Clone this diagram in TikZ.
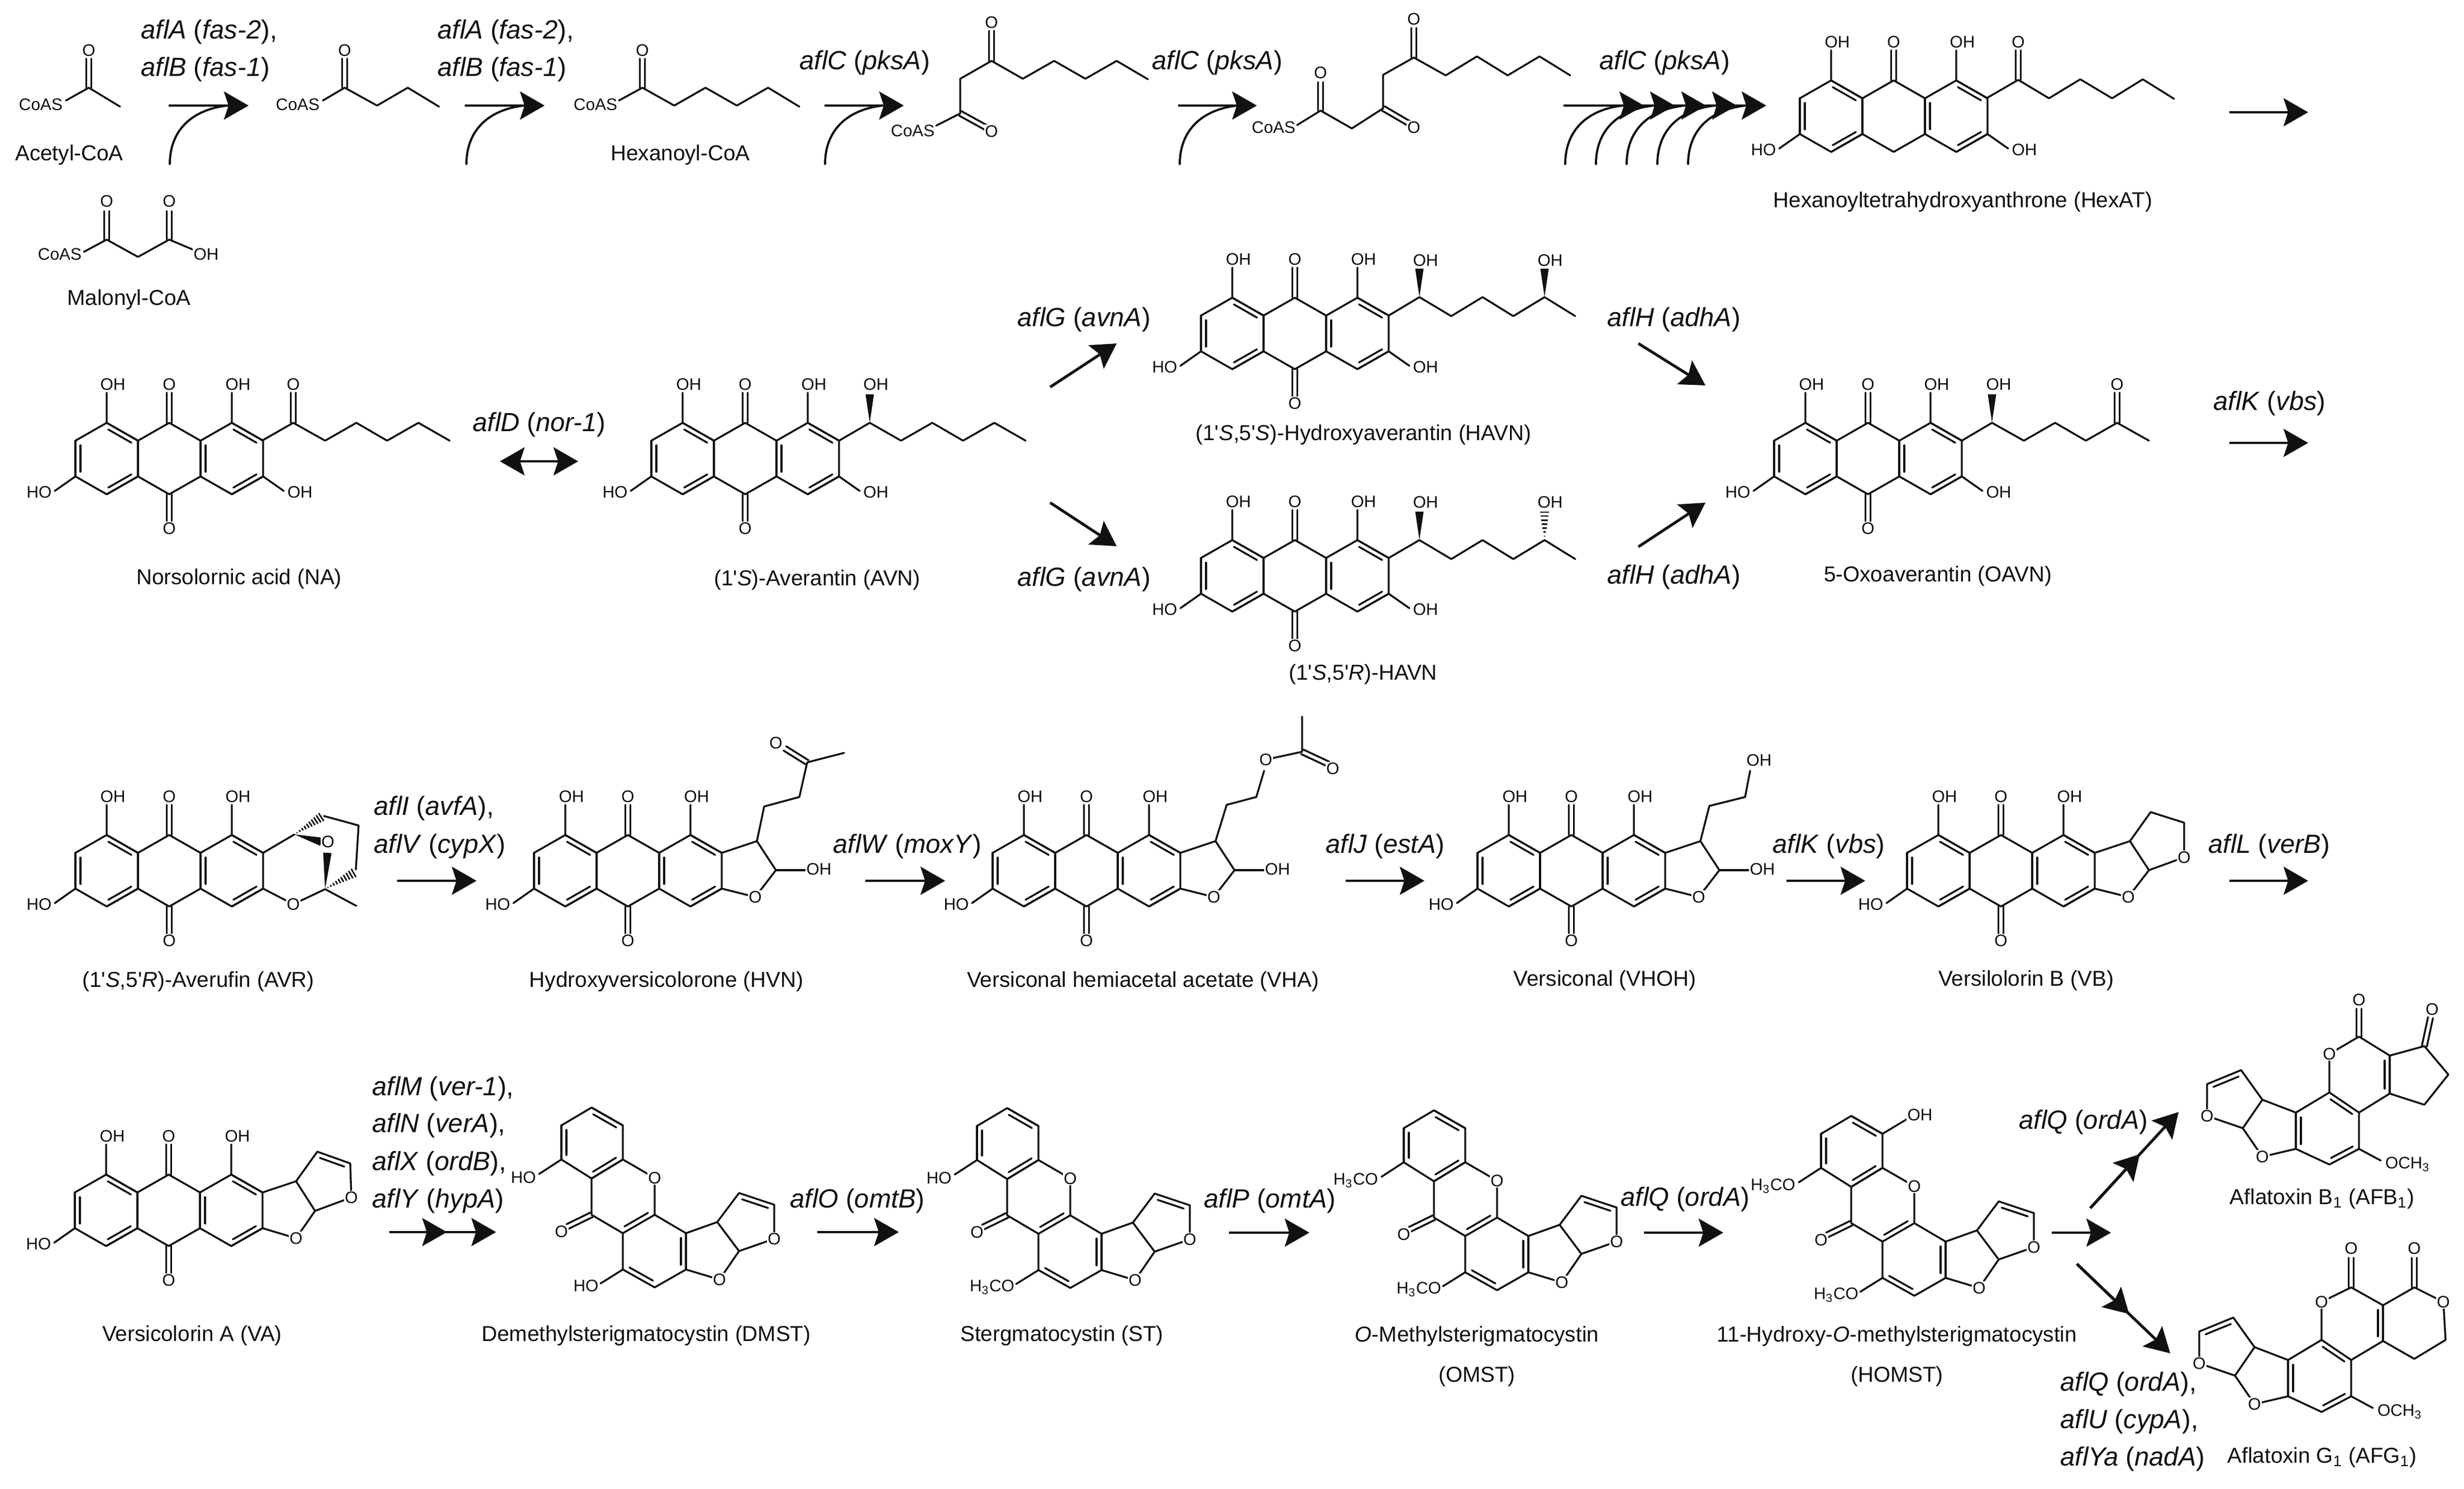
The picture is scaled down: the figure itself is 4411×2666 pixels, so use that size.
\documentclass[tikz,border=0pt]{standalone}
\usepackage{fontspec}
\setmainfont{Liberation Sans}
\usetikzlibrary{arrows.meta,calc}
\definecolor{ink}{HTML}{111111}
\tikzset{
 bond/.style={line width=0.95pt,line cap=round,line join=round,draw=ink},
 atomlab/.style={font=\fontsize{8.5}{10}\selectfont,fill=white,inner sep=0.4pt,text=ink},
 caplab/.style={font=\fontsize{11}{13}\selectfont,inner sep=0pt,text=ink,text height=8.2pt,text depth=2.4pt},
 genelab/.style={font=\fontsize{13.4}{15}\selectfont,inner sep=0pt,anchor=west,text=ink,text height=10pt,text depth=3pt},
 rxnline/.style={line width=1.4pt,draw=ink,-{Stealth[length=12.5pt,width=14.2pt,inset=2.3pt]}},
 rxnboth/.style={line width=1.4pt,draw=ink,{Stealth[length=12.5pt,width=14.2pt,inset=2.3pt]}-{Stealth[length=12.5pt,width=14.2pt,inset=2.3pt]}},
 feedline/.style={line width=1.1pt,draw=ink,line cap=round},
}
\newcounter{atm}
\newcommand\atm[3][]{\stepcounter{atm}\node[atomlab,#1] (atom\arabic{atm}) at (#2) {#3};}
\newcommand\gene[2]{\textit{#1} (\textit{#2})}
\newcommand\qs{\textquotesingle}
\newcommand\dbL[2]{\draw[bond] (#1)--(#2); \draw[bond] ($(#1)!.13!(#2)!0.09cm!90:(#2)$)--($(#2)!.13!(#1)!0.09cm!-90:(#1)$);}
\newcommand\dbR[2]{\draw[bond] (#1)--(#2); \draw[bond] ($(#1)!.13!(#2)!0.09cm!-90:(#2)$)--($(#2)!.13!(#1)!0.09cm!90:(#1)$);}
\newcommand\dbC[2]{\draw[bond] ($(#1)!0.045cm!90:(#2)$)--($(#2)!0.045cm!-90:(#1)$); \draw[bond] ($(#1)!0.045cm!-90:(#2)$)--($(#2)!0.045cm!90:(#1)$);}
\newcommand\bwedge[2]{\fill[ink] (#1)--($(#2)!0.075cm!90:(#1)$)--($(#2)!0.075cm!-90:(#1)$)--cycle;}
\newcommand\hwedge[3][0.1,0.2,...,1]{\foreach \t in {#1}{\pgfmathsetlengthmacro\hw{2.4*\t}\draw[line width=0.75pt,draw=ink] ($(#2)!\t!(#3)!\hw!90:(#2)$)--($(#2)!\t!(#3)!\hw!-90:(#2)$);}}
% anthraquinone core
\newcommand\coreskel[2]{\begin{scope}[shift={(#1,#2)}]
 \draw[bond] (-168,-32)--(-112,-64)--(-56,-32)--(0,-64)--(56,-32)--(112,-64)--(168,-32)--(168,32)--(112,64)--(56,32)--(0,64)--(-56,32)--(-112,64)--(-168,32)--cycle;
 \draw[bond] (-56,-32)--(-56,32) (56,-32)--(56,32);
 \dbR{-112,-64}{-56,-32}\dbR{112,-64}{168,-32}\dbL{-168,-32}{-168,32}\dbL{-112,64}{-56,32}\dbL{112,64}{168,32}\dbL{56,-32}{56,32}
 \draw[bond] (-112,-64)--(-112,-118) (112,-64)--(112,-118) (-168,32)--(-205,58);
 \dbC{0,-64}{0,-118}
 \atm{-101,-133}{OH}\atm{0,-133}{O}\atm{123,-133}{OH}\atm{-233,60}{HO}
\end{scope}}
\newcommand\corebottom[2]{\begin{scope}[shift={(#1,#2)}]\dbC{0,64}{0,116}\atm{0,125}{O}\end{scope}}
\newcommand\coreOH[2]{\begin{scope}[shift={(#1,#2)}]\draw[bond] (168,32)--(205,58);\atm{234,60}{OH}\end{scope}}
\newcommand\furanOpen[2]{\begin{scope}[shift={(#1,#2)}]\draw[bond] (168,-32)--(231,-53)--(265,-1)--(228,47)--(168,32);\atm{228,47}{O}\end{scope}}
\newcommand\hemiOH[2]{\begin{scope}[shift={(#1,#2)}]\draw[bond] (265,-1)--(318,-1);\atm{342,-3}{OH}\end{scope}}
% xanthone part, in the coordinates of DMST
\newcommand\xan[2]{\begin{scope}[shift={(#1,#2)}]
 \draw[bond] (1059,1983)--(1115,2015)--(1115,2076)--(1059,2110)--(1005,2076)--(1005,2015)--cycle;
 \dbR{1059,1983}{1115,2015}\dbR{1115,2076}{1059,2110}\dbR{1005,2076}{1005,2015}
 \draw[bond] (1115,2076)--(1172,2109)--(1172,2175) (1059,2110)--(1059,2175)--(1115,2208);
 \dbL{1115,2208}{1172,2175}
 \dbC{1059,2175}{1016,2196}
 \atm{1005,2205}{O}\atm{1172,2109}{O}
 \draw[bond] (1115,2208)--(1115,2273)(1172,2175)--(1228,2208);
 \dbL{1115,2273}{1172,2305}\dbL{1228,2273}{1228,2208}
 \draw[bond] (1172,2305)--(1228,2273);
 \draw[bond] (1228,2208)--(1284,2188)--(1323,2136);
 \dbR{1323,2136}{1386,2157}
 \draw[bond] (1386,2157)--(1386,2218)--(1323,2240)--(1284,2188) (1323,2240)--(1288,2291)--(1228,2273);
 \atm{1386,2218}{O}\atm{1288,2291}{O}
 \draw[bond] (1005,2076)--(965,2102) (1115,2273)--(1075,2298);
\end{scope}}
\newcommand\xanHO[2]{\begin{scope}[shift={(#1,#2)}]\atm{937,2108}{HO}\end{scope}}
\newcommand\xanMeA[2]{\begin{scope}[shift={(#1,#2)}]\atm[anchor=east]{961,2109}{H\textsubscript{3}CO}\end{scope}}
\newcommand\xanMeB[2]{\begin{scope}[shift={(#1,#2)}]\atm[anchor=east]{1074,2304}{H\textsubscript{3}CO}\end{scope}}
% common part of the aflatoxins, in the coordinates of AFB1
\newcommand\afla[2]{\begin{scope}[shift={(#1,#2)}]
 \dbR{4170,1956}{4223,1992}\dbL{4110,1992}{4110,2057}\dbR{4223,2057}{4170,2085}
 \draw[bond] (4223,1992)--(4223,2057) (4170,2085)--(4110,2057) (4110,1992)--(4170,1956);
 \draw[bond] (4110,1992)--(4050,1969)--(4012,1916);
 \dbL{4012,1916}{3951,1941}
 \draw[bond] (3951,1941)--(3951,1998)--(4015,2020)--(4050,1969) (4015,2020)--(4050,2071)--(4110,2057);
 \atm{3951,1998}{O}\atm{4050,2071}{O}
 \draw[bond] (4223,2057)--(4262,2078);
 \atm[anchor=west]{4268,2085}{OCH\textsubscript{3}}
\end{scope}}
\begin{document}
\begin{tikzpicture}[x=0.01cm,y=-0.01cm]
\fill[white] (0,0) rectangle (4411,2666);
\useasboundingbox (0,0) rectangle (4411,2666);
%%%% ROW 1
% acetyl-CoA
\dbC{159,157}{159,105}\draw[bond] (159,157)--(215,191) (159,157)--(118,180);
\atm{159,90}{O}\atm{73,187}{CoAS}
\node[caplab] (acetyl) at (124,277) {Acetyl-CoA};
% butyryl
\dbC{617,157}{617,105}\draw[bond] (578,180)--(617,157)--(675,189)--(730,157)--(786,191);
\atm{617,90}{O}\atm{533,187}{CoAS}
% hexanoyl
\dbC{1150,157}{1150,105}\draw[bond] (1108,180)--(1150,157)--(1207,189)--(1263,157)--(1319,189)--(1375,157)--(1431,191);
\atm{1150,90}{O}\atm{1066,187}{CoAS}
\node[caplab] (hexanoyl) at (1218,277) {Hexanoyl-CoA};
% malonyl
\dbC{191,429}{191,378}\dbC{303,429}{303,378}
\draw[bond] (150,451)--(191,429)--(247,460)--(303,429)--(348,448);
\atm{191,360}{O}\atm{303,360}{O}\atm{107,455}{CoAS}\atm{369,455}{OH}
\node[caplab] (malonyl) at (231,536) {Malonyl-CoA};
% triketide
\dbC{1775,109}{1775,55}
\draw[bond] (1775,109)--(1719,141)--(1719,203)--(1676,225);
\draw[bond] (1775,109)--(1831,141)--(1887,109)--(1943,141)--(1999,109)--(2055,142);
\dbC{1719,203}{1768,230}
\atm{1775,40}{O}\atm{1775,235}{O}\atm{1634,234}{CoAS}
% tetraketide
\dbC{2531,103}{2531,50}
\draw[bond] (2531,103)--(2476,134)--(2476,194)--(2420,230)--(2364,198)--(2322,224);
\draw[bond] (2531,103)--(2588,135)--(2644,101)--(2699,135)--(2756,101)--(2811,135);
\dbC{2476,194}{2524,222}\dbC{2364,198}{2364,147}
\atm{2531,34}{O}\atm{2364,130}{O}\atm{2531,228}{O}\atm{2280,228}{CoAS}
% HexAT
\coreskel{3390}{208}\coreOH{3390}{208}
\dbC{3613,143}{3613,90}
\draw[bond] (3556,176)--(3613,143)--(3668,176)--(3724,142)--(3781,176)--(3836,142)--(3892,177);
\atm{3613,75}{O}
\node[caplab] (hexat) at (3514,361) {Hexanoyltetrahydroxyanthrone (HexAT)};
% arrows of row 1
\coordinate (r1s) at (302,189);\coordinate (r1e) at (445,189);\draw[rxnline] (r1s)--(r1e);
\coordinate (r2s) at (832,189);\coordinate (r2e) at (975,189);\draw[rxnline] (r2s)--(r2e);
\coordinate (r3s) at (1476,189);\coordinate (r3e) at (1618,189);\draw[rxnline] (r3s)--(r3e);
\coordinate (r4s) at (2109,189);\coordinate (r4e) at (2250,189);\draw[rxnline] (r4s)--(r4e);
\coordinate (r5s) at (3991,201);\coordinate (r5e) at (4132,201);\draw[rxnline] (r5s)--(r5e);
\coordinate (r6s) at (2799,189);
\foreach \i/\e in {1/2943,2/2998,3/3054,4/3109,5/3162}{
 \coordinate (r6e\i) at (\e,189);\draw[rxnline] (r6s)--(r6e\i);}
\foreach \i/\x in {1/304,2/835,3/1477,4/2112,5/2802,6/2857,7/2912,8/2967,9/3022}{
 \coordinate (fs\i) at (\x,294);
 \draw[feedline] (fs\i) .. controls ($(fs\i)+(0,-62)$) and ($(fs\i)+(41,-98)$) .. ($(fs\i)+(103,-105)$);}
% enzyme labels of row 1
\node[genelab] (g1a) at (252,57) {\gene{aflA}{fas-2},};
\node[genelab] (g1b) at (252,124) {\gene{aflB}{fas-1}};
\node[genelab] (g2a) at (783,57) {\gene{aflA}{fas-2},};
\node[genelab] (g2b) at (783,124) {\gene{aflB}{fas-1}};
\node[genelab] (g3) at (1431,112) {\gene{aflC}{pksA}};
\node[genelab] (g4) at (2062,112) {\gene{aflC}{pksA}};
\node[genelab] (g5) at (2863,112) {\gene{aflC}{pksA}};
%%%% ROW 2
% NA
\coreskel{303}{821}\corebottom{303}{821}\coreOH{303}{821}
\dbC{525,757}{525,703}
\draw[bond] (469,789)--(525,757)--(582,789)--(638,757)--(693,789)--(749,757)--(805,789);
\atm{525,688}{O}
\node[caplab] (na) at (428,1036) {Norsolornic acid (NA)};
% AVN
\coreskel{1334}{821}\corebottom{1334}{821}\coreOH{1334}{821}
\bwedge{1557,757}{1557,706}
\draw[bond] (1502,789)--(1557,757)--(1613,789)--(1669,757)--(1724,789)--(1780,757)--(1836,789);
\atm{1568,688}{OH}
\node[caplab] (avn) at (1463,1038) {(1\qs\textit{S})-Averantin (AVN)};
\coordinate (d1s) at (895,826);\coordinate (d1e) at (1035,826);\draw[rxnboth] (d1s)--(d1e);
\node[genelab] (gd) at (846,760) {\gene{aflD}{nor-1}};
\coordinate (ga1s) at (1880,693);\coordinate (ga1e) at (1999,615);\draw[rxnline] (ga1s)--(ga1e);
\coordinate (ga2s) at (1880,900);\coordinate (ga2e) at (1999,978);\draw[rxnline] (ga2s)--(ga2e);
\node[genelab] (gg1) at (1821,572) {\gene{aflG}{avnA}};
\node[genelab] (gg2) at (1821,1037) {\gene{aflG}{avnA}};
% HAVN 5'S
\coreskel{2318}{597}\corebottom{2318}{597}\coreOH{2318}{597}
\bwedge{2541,532}{2541,481}\bwedge{2765,532}{2765,481}
\draw[bond] (2486,565)--(2541,532)--(2598,566)--(2654,532)--(2709,566)--(2765,532)--(2820,566);
\atm{2552,466}{OH}\atm{2775,466}{OH}
\node[caplab] (havna) at (2441,778) {(1\qs\textit{S},5\qs\textit{S})-Hydroxyaverantin (HAVN)};
% HAVN 5'R
\coreskel{2318}{1031}\corebottom{2318}{1031}\coreOH{2318}{1031}
\bwedge{2541,967}{2541,916}
\hwedge[0.14,0.28,...,1]{2765,967}{2765,916}
\draw[bond] (2486,999)--(2541,967)--(2598,1001)--(2654,967)--(2709,1001)--(2765,967)--(2820,1001);
\atm{2552,899}{OH}\atm{2775,899}{OH}
\node[caplab] (havnb) at (2440,1207) {(1\qs\textit{S},5\qs\textit{R})-HAVN};
\coordinate (h1s) at (2933,615);\coordinate (h1e) at (3053,690);\draw[rxnline] (h1s)--(h1e);
\coordinate (h2s) at (2933,979);\coordinate (h2e) at (3053,900);\draw[rxnline] (h2s)--(h2e);
\node[genelab] (gh1) at (2877,572) {\gene{aflH}{adhA}};
\node[genelab] (gh2) at (2877,1033) {\gene{aflH}{adhA}};
% OAVN
\coreskel{3344}{821}\corebottom{3344}{821}\coreOH{3344}{821}
\bwedge{3566,757}{3566,706}
\draw[bond] (3512,789)--(3566,757)--(3623,789)--(3679,757)--(3734,789)--(3790,757)--(3847,789);
\dbC{3790,757}{3790,703}
\atm{3578,688}{OH}\atm{3790,688}{O}
\node[caplab] (oavn) at (3469,1031) {5-Oxoaverantin (OAVN)};
\coordinate (r7s) at (3991,793);\coordinate (r7e) at (4132,793);\draw[rxnline] (r7s)--(r7e);
\node[genelab] (gk1) at (3962,722) {\gene{aflK}{vbs}};
%%%% ROW 3
% AVR
\coreskel{303}{1559}\corebottom{303}{1559}
\draw[bond] (471,1527)--(527,1494);
\draw[bond] (471,1591)--(525,1619)--(582,1592)--(638,1622);
\hwedge{527,1494}{575,1463}
\draw[bond] (580,1461)--(642,1478)--(637,1557);
\hwedge{582,1592}{633,1563}
\bwedge{527,1494}{575,1507}
\bwedge{582,1592}{586,1527}
\atm{587,1507}{O}\atm{525,1619}{O}
\node[caplab] (avr) at (355,1757) {(1\qs\textit{S},5\qs\textit{R})-Averufin (AVR)};
\coordinate (r8s) at (711,1577);\coordinate (r8e) at (853,1577);\draw[rxnline] (r8s)--(r8e);
\node[genelab] (gi) at (669,1447) {\gene{aflI}{avfA},};
\node[genelab] (gv) at (669,1515) {\gene{aflV}{cypX}};
% HVN
\coreskel{1124}{1559}\corebottom{1124}{1559}\furanOpen{1124}{1559}\hemiOH{1124}{1559}
\draw[bond] (1355,1506)--(1368,1444)--(1431,1427)--(1445,1365)--(1511,1348);
\dbC{1445,1365}{1405,1340}
\atm{1389,1330}{O}
\node[caplab] (hvn) at (1193,1757) {Hydroxyversicolorone (HVN)};
\coordinate (r9s) at (1549,1577);\coordinate (r9e) at (1692,1577);\draw[rxnline] (r9s)--(r9e);
\node[genelab] (gw) at (1491,1515) {\gene{aflW}{moxY}};
% VHA
\coreskel{1945}{1559}\corebottom{1945}{1559}\furanOpen{1945}{1559}\hemiOH{1945}{1559}
\draw[bond] (2176,1506)--(2196,1441)--(2249,1427)--(2263,1380);
\draw[bond] (2266,1360)--(2331,1346)--(2331,1283);
\dbC{2331,1346}{2378,1368}
\atm{2266,1360}{O}\atm{2386,1376}{O}
\node[caplab] (vha) at (2046,1757) {Versiconal hemiacetal acetate (VHA)};
\coordinate (r10s) at (2409,1577);\coordinate (r10e) at (2550,1577);\draw[rxnline] (r10s)--(r10e);
\node[genelab] (gj) at (2373,1515) {\gene{aflJ}{estA}};
% VHOH
\coreskel{2813}{1559}\corebottom{2813}{1559}\furanOpen{2813}{1559}\hemiOH{2813}{1559}
\draw[bond] (3044,1506)--(3060,1443)--(3124,1427)--(3133,1380);
\atm{3149,1361}{OH}
\node[caplab] (vhoh) at (2873,1755) {Versiconal (VHOH)};
\coordinate (r11s) at (3198,1577);\coordinate (r11e) at (3339,1577);\draw[rxnline] (r11s)--(r11e);
\node[genelab] (gk2) at (3173,1515) {\gene{aflK}{vbs}};
% VB
\coreskel{3582}{1559}\corebottom{3582}{1559}\furanOpen{3582}{1559}
\draw[bond] (3813,1506)--(3850,1454)--(3910,1473)--(3910,1535)--(3847,1558);
\atm{3910,1535}{O}
\node[caplab] (vb) at (3627,1755) {Versilolorin B (VB)};
\coordinate (r12s) at (3991,1577);\coordinate (r12e) at (4132,1577);\draw[rxnline] (r12s)--(r12e);
\node[genelab] (gl) at (3953,1515) {\gene{aflL}{verB}};
%%%% ROW 4
% VA
\coreskel{302}{2167}\corebottom{302}{2167}
\begin{scope}[shift={(302,2167)}]
\draw[bond] (168,-32)--(228,-52)--(266,-105);
\dbR{266,-105}{325,-84}
\draw[bond] (325,-84)--(327,-23)--(262,1)--(228,-52) (262,1)--(228,50)--(168,32);
\atm{327,-23}{O}\atm{228,50}{O}
\end{scope}
\node[caplab] (va) at (344,2391) {Versicolorin A (VA)};
\node[genelab] (gm) at (666,1949) {\gene{aflM}{ver-1},};
\node[genelab] (gn) at (666,2015) {\gene{aflN}{verA},};
\node[genelab] (gx) at (666,2083) {\gene{aflX}{ordB},};
\node[genelab] (gy) at (666,2150) {\gene{aflY}{hypA}};
\coordinate (r13s) at (697,2206);\coordinate (r13m) at (800,2206);\coordinate (r13e) at (888,2206);
\draw[rxnline] (r13s)--(r13m);\draw[rxnline] (r13s)--(r13e);
% DMST
\xan{0}{0}\xanHO{0}{0}\atm{1049,2302}{HO}
\node[caplab] (dmst) at (1157,2391) {Demethylsterigmatocystin (DMST)};
\coordinate (r14s) at (1463,2206);\coordinate (r14e) at (1609,2206);\draw[rxnline] (r14s)--(r14e);
\node[genelab] (go) at (1414,2150) {\gene{aflO}{omtB}};
% ST
\xan{744}{1}\xanHO{744}{1}\xanMeB{744}{1}
\node[caplab] (st) at (1901,2391) {Stergmatocystin (ST)};
\coordinate (r15s) at (2200,2207);\coordinate (r15e) at (2344,2207);\draw[rxnline] (r15s)--(r15e);
\node[genelab] (gp) at (2155,2150) {\gene{aflP}{omtA}};
% OMST
\xan{1508}{5}\xanMeA{1508}{5}\xanMeB{1508}{5}
\node[caplab] (omsta) at (2644,2392) {\textit{O}-Methylsterigmatocystin};
\node[caplab] (omstb) at (2644,2464) {(OMST)};
\coordinate (r16s) at (2943,2207);\coordinate (r16e) at (3085,2207);\draw[rxnline] (r16s)--(r16e);
\node[genelab] (gq1) at (2901,2147) {\gene{aflQ}{ordA}};
% HOMST
\xan{2255}{15}\xanMeA{2255}{15}\xanMeB{2255}{15}
\draw[bond] (3370,2030)--(3415,2003);\atm{3437,1996}{OH}
\node[caplab] (homsta) at (3396,2392) {11-Hydroxy-\textit{O}-methylsterigmatocystin};
\node[caplab] (homstb) at (3396,2464) {(HOMST)};
% final arrows
\coordinate (r17s) at (3673,2207);\coordinate (r17e) at (3779,2207);\draw[rxnline] (r17s)--(r17e);
\coordinate (u1s) at (3742,2163);\coordinate (u1e) at (3900,1991);\coordinate (u1m) at ($(u1s)!.56!(u1e)$);
\draw[rxnline] (u1s)--(u1m);\draw[rxnline] (u1s)--(u1e);
\coordinate (u2s) at (3718,2263);\coordinate (u2e) at (3885,2423);\coordinate (u2m) at ($(u2s)!.56!(u2e)$);
\draw[rxnline] (u2s)--(u2m);\draw[rxnline] (u2s)--(u2e);
\node[genelab] (gq2) at (3614,2009) {\gene{aflQ}{ordA}};
\node[genelab] (gq3) at (3688,2478) {\gene{aflQ}{ordA},};
\node[genelab] (gu) at (3688,2545) {\gene{aflU}{cypA},};
\node[genelab] (gya) at (3688,2612) {\gene{aflYa}{nadA}};
% AFB1
\afla{0}{0}
\draw[bond] (4170,1956)--(4170,1887)--(4223,1856)--(4278,1890);
\dbR{4278,1890}{4278,1958}
\draw[bond] (4278,1958)--(4223,1992) (4278,1890)--(4340,1873)--(4383,1924)--(4340,1978)--(4278,1958);
\dbC{4223,1856}{4223,1806}\dbC{4340,1873}{4351,1822}
\atm{4170,1887}{O}\atm{4223,1790}{O}\atm{4354,1807}{O}
\node[caplab] (afb) at (4157,2146) {Aflatoxin B\textsubscript{1} (AFB\textsubscript{1})};
% AFG1
\afla{-14}{443}
\draw[bond] (4156,2399)--(4156,2331)--(4209,2305)--(4266,2337);
\dbR{4266,2337}{4266,2401}
\draw[bond] (4266,2401)--(4209,2435) (4266,2337)--(4322,2305)--(4374,2331)--(4378,2399)--(4322,2433)--(4266,2401);
\dbC{4209,2305}{4209,2252}\dbC{4322,2305}{4322,2252}
\atm{4156,2331}{O}\atm{4374,2331}{O}\atm{4209,2235}{O}\atm{4322,2235}{O}
\node[caplab] (afg) at (4157,2609) {Aflatoxin G\textsubscript{1} (AFG\textsubscript{1})};
\end{tikzpicture}
\end{document}
